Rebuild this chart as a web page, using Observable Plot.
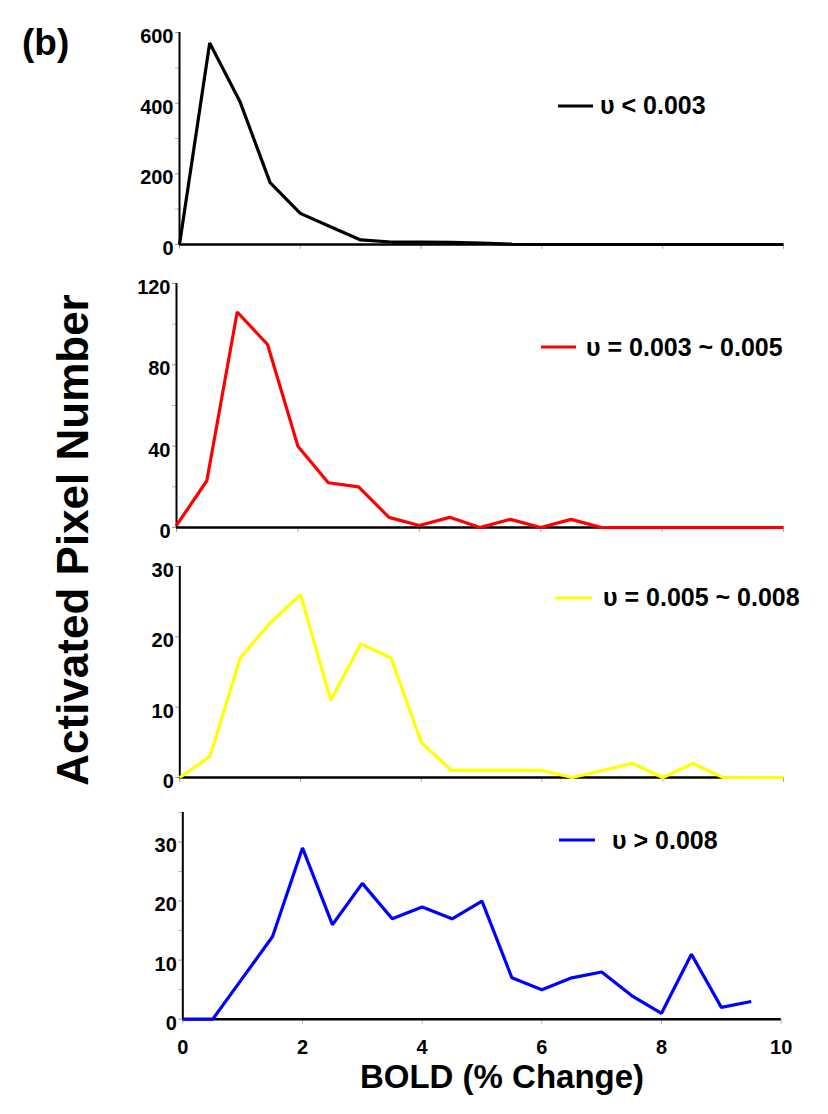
<!DOCTYPE html>
<html>
<head>
<meta charset="utf-8">
<script src="https://cdn.jsdelivr.net/npm/d3@7"></script>
<script src="https://cdn.jsdelivr.net/npm/@observablehq/plot@0.6"></script>
<style>
  body { margin: 0; background: white; }
  #chart { position: relative; width: 828px; height: 1114px; background: white; overflow: hidden; }
  #chart svg.panel { position: absolute; left: 0; }
  #chart svg.panel text { font-size: 20px !important; font-weight: bold !important; font-family: 'Liberation Sans', Arial, Helvetica, sans-serif !important; }
  #overlay { position: absolute; left: 0; top: 0; z-index: 5; }
</style>
</head>
<body>
<div id="chart"></div>
<script>
// ---- data ----
const boldPct = [0, 0.5, 1, 1.5, 2, 2.5, 3, 3.5, 4, 4.5, 5, 5.5, 6, 6.5, 7, 7.5, 8, 8.5, 9, 9.5, 10];
const seriesLow   = [0, 570, 405, 175, 88, 50, 13, 7, 7, 6, 4, 1, 0, 0, 0, 0, 0, 0, 0, 0, 0];
const seriesMid1  = [1, 23, 106, 90, 40, 22, 20, 5, 1, 5, 0, 4, 0, 4, 0, 0, 0, 0, 0, 0, 0];
const seriesMid2  = [0, 3, 17, 22, 26, 11, 19, 17, 5, 1, 1, 1, 1, 0, 1, 2, 0, 2, 0, 0, 0];
const seriesHigh  = [0, 0, 7, 14, 29, 16, 23, 17, 19, 17, 20, 7, 5, 7, 8, 4, 1, 11, 2, 3];
const seriesNames = ["υ < 0.003", "υ = 0.003 ~ 0.005", "υ = 0.005 ~ 0.008", "υ > 0.008"];
const seriesColors = ["#000000", "#ff0000", "#ffff00", "#0000ff"];
const yDomains = [[0, 600], [0, 120], [0, 30], [0, 35]];
const yMajorTicks = [[0, 200, 400, 600], [0, 40, 80, 120], [0, 10, 20, 30], [0, 10, 20, 30]];
const yMinorTicks = [[100, 300, 500], [20, 60, 100], [], [5, 15, 25, 35]];
const xTicks = [0, 2, 4, 6, 8, 10];
const xTitle = "BOLD (% Change)";
const yTitle = "Activated Pixel Number";
const panelTag = "(b)";

// ---- layout (pixels) ----
const W = 828;
const layout = [
  {left: 179,   right: 783,   top: 32,    bottom: 244},
  {left: 176,   right: 783,   top: 282.7, bottom: 526.7},
  {left: 179.3, right: 783,   top: 565.7, bottom: 776.7},
  {left: 182.3, right: 780.7, top: 812.3, bottom: 1019}
];
const legendPos = [
  {x1: 558, x2: 593, y: 106, tx: 600, ty: 114},
  {x1: 541, x2: 576, y: 347, tx: 586, ty: 356},
  {x1: 555, x2: 592, y: 598, tx: 603, ty: 606},
  {x1: 559, x2: 595, y: 840, tx: 612, ty: 849}
];

const allSeries = [seriesLow, seriesMid1, seriesMid2, seriesHigh];
const chart = document.getElementById("chart");
const font = "'Liberation Sans', Arial, Helvetica, sans-serif";
const tickFont = 20;

allSeries.forEach((vals, k) => {
  const L = layout[k];
  const isLast = k === allSeries.length - 1;
  const mTop = 10, mBottom = isLast ? 48 : 12;
  const data = vals.map((n, i) => ({bold: boldPct[i], n}));
  const svg = Plot.plot({
    width: W,
    height: (L.bottom - L.top) + mTop + mBottom,
    marginLeft: L.left,
    marginRight: W - L.right,
    marginTop: mTop,
    marginBottom: mBottom,
    x: {domain: [0, 10], axis: null},
    y: {domain: yDomains[k], axis: null},
    style: {fontFamily: font, fontSize: tickFont + "px", fontWeight: "bold", background: "transparent", overflow: "visible", color: "black"},
    marks: [
      // minor y ticks
      Plot.axisY({ticks: yMinorTicks[k], tickSize: 4, stroke: "#b5b5b5", tickFormat: () => "", label: null}),
      // major y ticks
      Plot.axisY({ticks: yMajorTicks[k], tickSize: 4, stroke: "#999", tickFormat: () => "", label: null}),
      // y tick labels
      Plot.axisY({ticks: yMajorTicks[k], tickSize: 0, tickPadding: 6, dy: 4, fill: "black", label: null}),
      // x ticks (+ labels on the bottom panel)
      Plot.axisX({ticks: xTicks, tickSize: 5, stroke: "#aaa", tickPadding: 16,
        tickFormat: isLast ? (d => String(d)) : (() => ""), fill: "black", label: null}),
      Plot.ruleX([0], {stroke: "black", strokeWidth: 2}),
      Plot.ruleY([0], {stroke: "black", strokeWidth: 2.5}),
      Plot.line(data, {x: "bold", y: "n", stroke: seriesColors[k], strokeWidth: 3.2, strokeLinejoin: "miter", strokeLinecap: "butt"})
    ]
  });
  svg.classList.add("panel");
  svg.style.top = (L.top - mTop) + "px";
  chart.appendChild(svg);
});

// ---- overlay: titles and legends ----
const ns = "http://www.w3.org/2000/svg";
const ov = document.createElementNS(ns, "svg");
ov.setAttribute("id", "overlay");
ov.setAttribute("width", W);
ov.setAttribute("height", 1114);
ov.style.fontFamily = font;
ov.style.fontWeight = "bold";
function addText(str, attrs) {
  const t = document.createElementNS(ns, "text");
  for (const a in attrs) t.setAttribute(a, attrs[a]);
  t.textContent = str;
  ov.appendChild(t);
  return t;
}
addText(panelTag, {x: 22, y: 55, "font-size": 37});
addText(yTitle, {transform: "translate(88,540) rotate(-90)", "text-anchor": "middle", "font-size": 44});
addText(xTitle, {x: 502, y: 1088, "text-anchor": "middle", "font-size": 33});
legendPos.forEach((p, k) => {
  const l = document.createElementNS(ns, "line");
  l.setAttribute("x1", p.x1); l.setAttribute("x2", p.x2);
  l.setAttribute("y1", p.y); l.setAttribute("y2", p.y);
  l.setAttribute("stroke", seriesColors[k]);
  l.setAttribute("stroke-width", 3.2);
  ov.appendChild(l);
  addText(seriesNames[k], {x: p.tx, y: p.ty, "font-size": 25});
});
chart.appendChild(ov);
</script>
</body>
</html>
